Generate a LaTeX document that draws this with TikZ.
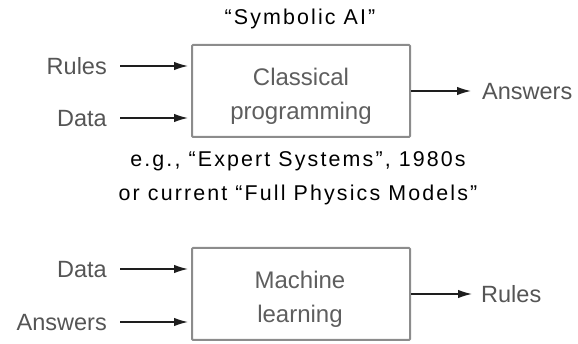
\documentclass[tikz,border=0pt]{standalone}
\usepackage{fontspec}
\setmainfont{Liberation Sans}
\newfontfamily\spacedfont[LetterSpace=10]{Liberation Sans}
\usetikzlibrary{arrows.meta}
\definecolor{labelgray}{HTML}{555555}
\definecolor{boxtextgray}{HTML}{5E5E5E}
\definecolor{boxline}{HTML}{8C8C8C}
\definecolor{arrowdark}{HTML}{1E1E1E}
\tikzset{
  procbox/.style={draw=boxline, line width=2pt, rounded corners=1pt,
    minimum width=218pt, minimum height=92pt, inner sep=0pt},
  boxtext/.style={text=boxtextgray, align=center, inner sep=0pt,
    font=\fontsize{24}{34}\selectfont},
  iolabel/.style={text=labelgray, inner sep=0pt, text height=17pt, text depth=0pt,
    font=\fontsize{23.5}{28}\selectfont},
  caption/.style={text=black, inner sep=0pt, anchor=base,
    font=\fontsize{21.4}{25}\spacedfont},
  flow/.style={draw=arrowdark, line width=1.3pt,
    -{Latex[length=14pt,width=8.5pt]}}
}
\begin{document}
\begin{tikzpicture}[x=1pt,y=-1pt]
\useasboundingbox (0,0) rectangle (578,344);

% symbolic approach
\node[caption] (symb) at (300,25) {“Symbolic AI”};
\node[procbox] (cp) at (301,91) {};
% base anchor of a two-line node sits on its last line
\node[boxtext, anchor=base] (cptxt) at (301,120) {Classical\\programming};
\node[iolabel, anchor=east] (rulesin) at (107,66) {Rules};
\node[iolabel, anchor=east] (datain) at (107,118) {Data};
\node[iolabel, anchor=west] (answersout) at (482,91) {Answers};
\draw[flow] ([xshift=13pt]rulesin.east) -- ([xshift=-3pt]cp.west |- rulesin.east);
\draw[flow] ([xshift=13pt]datain.east) -- ([xshift=-3pt]cp.west |- datain.east);
\draw[flow] (cp.east |- answersout.west) -- ([xshift=-11pt]answersout.west);

\node[caption] (eg) at (298,167) {e.g., “Expert Systems”, 1980s};
\node[caption] (cur) at (298,201) {or current “Full Physics Models”};

% learning approach
\node[procbox] (ml) at (301,294) {};
\node[boxtext, anchor=base] (mltxt) at (300,323) {Machine\\learning};
\node[iolabel, anchor=east] (datain2) at (107,269) {Data};
\node[iolabel, anchor=east] (answersin) at (107,322) {Answers};
\node[iolabel, anchor=west] (rulesout) at (481,294) {Rules};
\draw[flow] ([xshift=13pt]datain2.east) -- ([xshift=-3pt]ml.west |- datain2.east);
\draw[flow] ([xshift=13pt]answersin.east) -- ([xshift=-3pt]ml.west |- answersin.east);
\draw[flow] (ml.east |- rulesout.west) -- ([xshift=-9pt]rulesout.west);
\end{tikzpicture}
\end{document}
